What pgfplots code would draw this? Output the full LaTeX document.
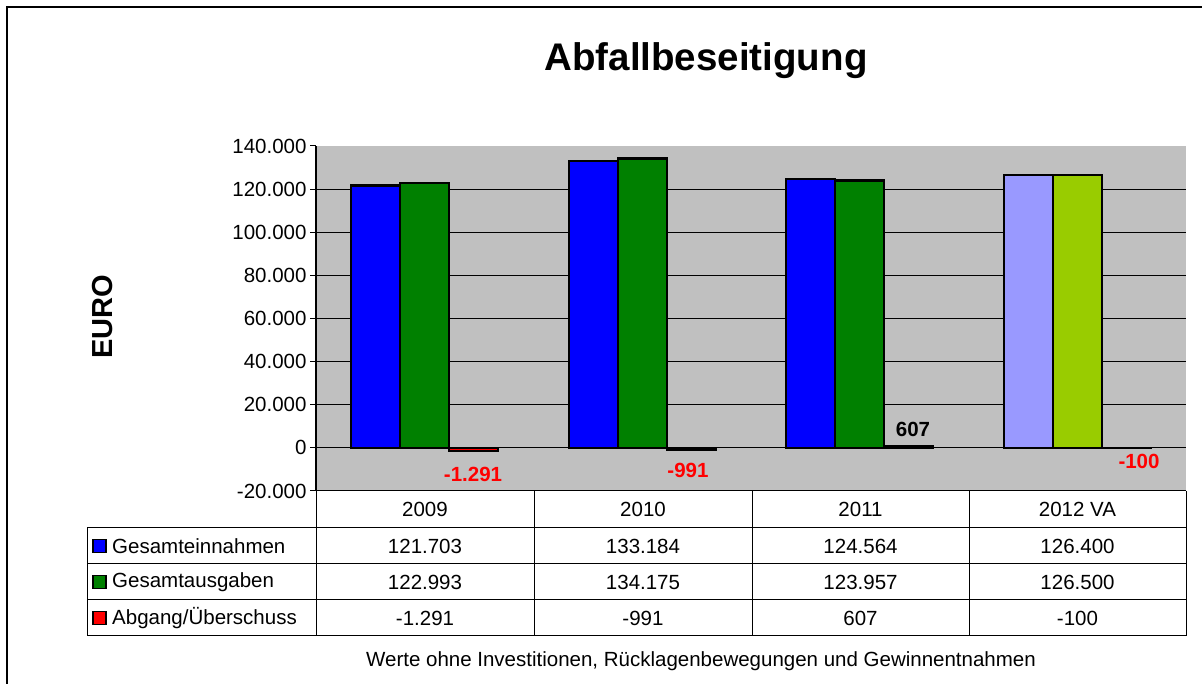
\documentclass[border=0pt]{standalone}
\usepackage{pgfplots}
\usepackage{pgfplotstable}
\pgfplotsset{compat=1.18}
\usepackage{fontspec}
\setmainfont{Liberation Sans}
\definecolor{cBlue}{HTML}{0000FF}
\definecolor{cGreen}{HTML}{008000}
\definecolor{cRed}{HTML}{FF0000}
\definecolor{cLav}{HTML}{9999FF}
\definecolor{cLime}{HTML}{99CC00}
\definecolor{cGray}{HTML}{C0C0C0}
\newcommand\fs{\fontsize{20.5bp}{24bp}\selectfont}
\pgfplotstableread{
x y
0 121703
1 133184
2 124564
}\einA
\pgfplotstableread{
x y
3 126400
}\einB
\pgfplotstableread{
x y
0 122993
1 134175
2 123957
}\ausA
\pgfplotstableread{
x y
3 126500
}\ausB
\pgfplotstableread{
x y
0 -1291
1 -991
2 607
3 -100
}\abg
\begin{document}
\begin{tikzpicture}[x=1bp,y=1bp]
\path[use as bounding box] (0bp,0bp) rectangle (1202bp,684bp);
\draw[line width=1.2bp] (7bp,0bp) -- (7bp,677bp) -- (1202bp,677bp);
\node[anchor=base,font=\fontsize{38.5bp}{44bp}\selectfont\bfseries] at (706bp,613bp) {Abfallbeseitigung};
\node[rotate=90,font=\fontsize{29bp}{34bp}\selectfont\bfseries] at (103bp,367bp) {EURO};
\begin{axis}[
  at={(316bp,193bp)}, anchor=south west,
  width=870bp, height=345bp, scale only axis,
  xmin=-0.5, xmax=3.5, ymin=-20000, ymax=140000,
  axis x line=none, axis y line*=left,
  y axis line style={line width=1.2bp, black},
  axis background/.style={fill=cGray},
  scaled y ticks=false,
  ytick={-20000,0,20000,40000,60000,80000,100000,120000,140000},
  yticklabels={-20.000,0,20.000,40.000,60.000,80.000,100.000,120.000,140.000},
  yticklabel style={font=\fs, text=black},
  tick align=outside, major tick length=6bp,
  tick style={black, line width=1bp},
  ymajorgrids=false,
  extra y ticks={0,20000,40000,60000,80000,100000,120000},
  extra y tick labels={},
  extra y tick style={grid=major},
  major grid style={black, line width=0.8bp},
  clip=false,
  fillbar/.style={ybar, bar width=49bp, draw=none},
  linebar/.style={ybar, bar width=49bp, draw=black, fill=none, line width=2.2bp, line join=miter},
]
\addplot[fillbar, bar shift=-49bp, fill=cBlue] table {\einA};
\addplot[fillbar, bar shift=-49bp, fill=cLav] table {\einB};
\addplot[fillbar, bar shift=0bp, fill=cGreen] table {\ausA};
\addplot[fillbar, bar shift=0bp, fill=cLime] table {\ausB};
\addplot[fillbar, bar shift=49bp, fill=cRed] table {\abg};
\addplot[linebar, bar shift=-49bp] table {\einA};
\addplot[linebar, bar shift=-49bp] table {\einB};
\addplot[linebar, bar shift=0bp] table {\ausA};
\addplot[linebar, bar shift=0bp] table {\ausB};
\addplot[linebar, bar shift=49bp] table {\abg};
\node[text=cRed, font=\fs\bfseries] at (axis cs:0.2218,-12522) {-1.291};
\node[text=cRed, font=\fs\bfseries] at (axis cs:1.2103,-10435) {-991};
\node[text=black, font=\fs\bfseries] at (axis cs:2.2448,8348) {607};
\node[text=cRed, font=\fs\bfseries] at (axis cs:3.284,-6261) {-100};
\end{axis}
% data table
\begin{scope}[line width=1bp]
\draw (316bp,193bp) -- (1186bp,193bp);
\foreach \yy in {156,120,84,48} {\draw (87bp,\yy bp) -- (1186bp,\yy bp);}
\foreach \xx in {316,534,752,969,1186} {\draw (\xx bp,193bp) -- (\xx bp,48bp);}
\draw (87bp,156bp) -- (87bp,48bp);
\end{scope}
\begin{scope}[every node/.style={font=\fs, inner sep=0pt}]
\node at (425bp,174.5bp) {2009};
\node at (643bp,174.5bp) {2010};
\node at (860.5bp,174.5bp) {2011};
\node at (1077.5bp,174.5bp) {2012 VA};
\node at (425bp,138bp) {121.703};
\node at (643bp,138bp) {133.184};
\node at (860.5bp,138bp) {124.564};
\node at (1077.5bp,138bp) {126.400};
\node at (425bp,102bp) {122.993};
\node at (643bp,102bp) {134.175};
\node at (860.5bp,102bp) {123.957};
\node at (1077.5bp,102bp) {126.500};
\node at (425bp,66bp) {-1.291};
\node at (643bp,66bp) {-991};
\node at (860.5bp,66bp) {607};
\node at (1077.5bp,66bp) {-100};
\node[anchor=west] at (112bp,138bp) {Gesamteinnahmen};
\node[anchor=west] at (112bp,102bp) {Gesamtausgaben};
\node[anchor=west] at (112bp,66bp) {Abgang/Überschuss};
\node at (701bp,23bp) {Werte ohne Investitionen, Rücklagenbewegungen und Gewinnentnahmen};
\end{scope}
\draw[fill=cBlue, line width=1.2bp] (93bp,131.5bp) rectangle (106bp,144.5bp);
\draw[fill=cGreen, line width=1.2bp] (93bp,95.5bp) rectangle (106bp,108.5bp);
\draw[fill=cRed, line width=1.2bp] (93bp,59.5bp) rectangle (106bp,72.5bp);
\end{tikzpicture}
\end{document}
